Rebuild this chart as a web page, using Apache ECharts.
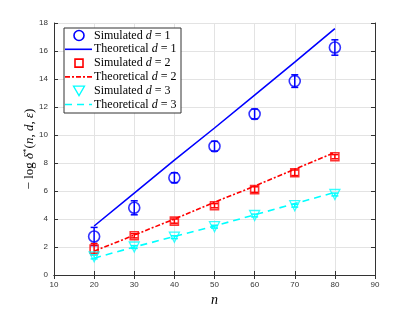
<!DOCTYPE html>
<html><head><meta charset="utf-8">
<script src="https://cdn.jsdelivr.net/npm/echarts@6/dist/echarts.min.js"></script>
<style>html,body{margin:0;padding:0;background:#fff}#c{width:415px;height:312px}</style>
</head><body><div id="c"></div>
<script>
const nValues = [20, 30, 40, 50, 60, 70, 80];
const sim1 = [2.75, 4.8, 6.95, 9.2, 11.5, 13.85, 16.25];
const err1 = [0.65, 0.5, 0.35, 0.35, 0.35, 0.45, 0.55];
const theo1 = [3.5, 5.85, 8.2, 10.5, 12.85, 15.2, 17.6];
const sim2 = [1.85, 2.8, 3.85, 4.95, 6.1, 7.3, 8.45];
const err2 = [0.4, 0.15, 0.15, 0.15, 0.2, 0.2, 0.15];
const theo2 = [1.7, 2.85, 4.0, 5.2, 6.35, 7.55, 8.75];
const sim3 = [1.3, 2.0, 2.7, 3.45, 4.25, 4.95, 5.75];
const err3 = [0.15, 0.1, 0.1, 0.1, 0.1, 0.1, 0.1];
const theo3 = [1.2, 2.0, 2.75, 3.5, 4.3, 5.1, 5.9];
const legendLabels = ['Simulated', 'Theoretical', 'Simulated', 'Theoretical', 'Simulated', 'Theoretical'];
const legendD = ['1', '1', '2', '2', '3', '3'];
const xTicks = [10, 90, 10];
const yTicks = [0, 18, 2];

const BLUE = '#0000ff', RED = '#ff0000', CYAN = '#00ffff';
const chart = echarts.init(document.getElementById('c'));
const pairs = (ys) => nValues.map((n, i) => [n, ys[i]]);
const errData = (ys, es) => nValues.map((n, i) => [n, ys[i] - es[i], ys[i] + es[i]]);
function errSeries(ys, es, color) {
  return {
    type: 'custom', xAxisIndex: 0, yAxisIndex: 0, silent: true, z: 3,
    data: errData(ys, es),
    renderItem: function (params, api) {
      const lo = api.coord([api.value(0), api.value(1)]);
      const hi = api.coord([api.value(0), api.value(2)]);
      const w = 3.5;
      const st = { stroke: color, lineWidth: 1.5, fill: null };
      return { type: 'group', children: [
        { type: 'line', shape: { x1: lo[0], y1: lo[1], x2: hi[0], y2: hi[1] }, style: st },
        { type: 'line', shape: { x1: lo[0] - w, y1: lo[1], x2: lo[0] + w, y2: lo[1] }, style: st },
        { type: 'line', shape: { x1: hi[0] - w, y1: hi[1], x2: hi[0] + w, y2: hi[1] }, style: st }
      ]};
    }
  };
}
const serif = 'Liberation Serif';
const legendRich = {
  a: { fontFamily: serif, fontSize: 12, fill: '#000' },
  i: { fontFamily: serif, fontStyle: 'italic', fontSize: 12, fill: '#000' }
};
// Manual legend
const LX = 64, LY = 28, LW = 117, LH = 85, rowH = 13.8, row0 = 35.5;
const legendEls = [{ type: 'rect', shape: { x: LX, y: LY, width: LW, height: LH },
  style: { fill: '#fff', stroke: '#333', lineWidth: 1 }, z: 10 }];
const iconStyles = [
  { kind: 'circle', color: BLUE },
  { kind: 'line', color: BLUE, dash: null },
  { kind: 'rect', color: RED },
  { kind: 'line', color: RED, dash: [5, 2, 2, 2] },
  { kind: 'tri', color: CYAN },
  { kind: 'line', color: CYAN, dash: [7, 5] }
];
iconStyles.forEach((ic, k) => {
  const cy = row0 + k * rowH, cx = 79;
  const st = { stroke: ic.color, lineWidth: 1.6, fill: null };
  if (ic.kind === 'circle') legendEls.push({ type: 'circle', shape: { cx: cx, cy: cy, r: 5 }, style: st, z: 11 });
  else if (ic.kind === 'rect') legendEls.push({ type: 'rect', shape: { x: cx - 4, y: cy - 4, width: 8, height: 8 }, style: st, z: 11 });
  else if (ic.kind === 'tri') legendEls.push({ type: 'polygon', shape: { points: [[cx - 5.5, cy - 4.5], [cx + 5.5, cy - 4.5], [cx, cy + 5]] }, style: Object.assign({}, st, { lineWidth: 1.3 }), z: 11 });
  else legendEls.push({ type: 'line', shape: { x1: 65, y1: cy, x2: 92, y2: cy }, style: Object.assign({}, st, { lineDash: ic.dash }), z: 11 });
  legendEls.push({ type: 'text', x: 94, y: cy, z: 11,
    style: { text: '{a|' + legendLabels[k] + ' }{i|d}{a| = ' + legendD[k] + '}', rich: legendRich, verticalAlign: 'middle', align: 'left' } });
});

const axisCommon = {
  axisLine: { show: true, lineStyle: { color: '#333', width: 1 } },
  axisTick: { show: true, inside: true, length: 4, lineStyle: { color: '#333' } },
  splitLine: { show: false }
};
chart.setOption({
  animation: false,
  grid: { left: 54, right: 40, top: 23, bottom: 35, containLabel: false },
  xAxis: [
    Object.assign({}, axisCommon, {
      type: 'value', min: xTicks[0], max: xTicks[1], interval: xTicks[2], position: 'bottom',
      axisLabel: { fontSize: 8, color: '#333', fontFamily: 'Liberation Sans', margin: 6 },
      splitLine: { show: true, lineStyle: { color: '#e3e3e3', width: 1 } },
      name: 'n', nameLocation: 'middle', nameGap: 18, nameMoveOverlap: false,
      nameTextStyle: { fontFamily: serif, fontStyle: 'italic', fontSize: 14, color: '#000' }
    }),
    Object.assign({}, axisCommon, {
      type: 'value', min: xTicks[0], max: xTicks[1], interval: xTicks[2], position: 'top',
      axisLabel: { show: false }
    })
  ],
  yAxis: [
    Object.assign({}, axisCommon, {
      type: 'value', min: yTicks[0], max: yTicks[1], interval: yTicks[2], position: 'left',
      axisLabel: { fontSize: 8, color: '#333', fontFamily: 'Liberation Sans', margin: 6 },
      splitLine: { show: true, lineStyle: { color: '#e3e3e3', width: 1 } },
      name: '{a|− log }{i|δ}{s|*}{a|(}{i|n}{a|, }{i|d}{a|, }{i|ε}{a|)}',
      nameLocation: 'middle', nameGap: 17, nameMoveOverlap: false,
      nameTextStyle: { rich: {
        a: { fontFamily: serif, fontSize: 13, color: '#000' },
        i: { fontFamily: serif, fontStyle: 'italic', fontSize: 13, color: '#000' },
        s: { fontFamily: serif, fontSize: 9, color: '#000', verticalAlign: 'top', padding: [0, 0, 6, 0] }
      } }
    }),
    Object.assign({}, axisCommon, {
      type: 'value', min: yTicks[0], max: yTicks[1], interval: yTicks[2], position: 'right',
      axisLabel: { show: false }
    })
  ],
  graphic: legendEls,
  series: [
    errSeries(sim1, err1, BLUE),
    errSeries(sim2, err2, RED),
    errSeries(sim3, err3, CYAN),
    { name: 's1', type: 'scatter', data: pairs(sim1), symbol: 'circle', symbolSize: 11,
      itemStyle: { color: 'rgba(0,0,0,0)', borderColor: BLUE, borderWidth: 1.6 }, z: 4 },
    { name: 't1', type: 'line', data: pairs(theo1), symbol: 'none', lineStyle: { color: BLUE, width: 1.6 } },
    { name: 's2', type: 'scatter', data: pairs(sim2), symbol: 'rect', symbolSize: 8,
      itemStyle: { color: 'rgba(0,0,0,0)', borderColor: RED, borderWidth: 1.6 }, z: 4 },
    { name: 't2', type: 'line', data: pairs(theo2), symbol: 'none', lineStyle: { color: RED, width: 1.6, type: [5, 2, 2, 2] } },
    { name: 's3', type: 'scatter', data: pairs(sim3), symbol: 'triangle', symbolRotate: 180, symbolSize: 10,
      itemStyle: { color: 'rgba(0,0,0,0)', borderColor: CYAN, borderWidth: 1.3 }, z: 4 },
    { name: 't3', type: 'line', data: pairs(theo3), symbol: 'none', lineStyle: { color: CYAN, width: 1.6, type: [7, 5] } }
  ]
});
</script></body></html>
